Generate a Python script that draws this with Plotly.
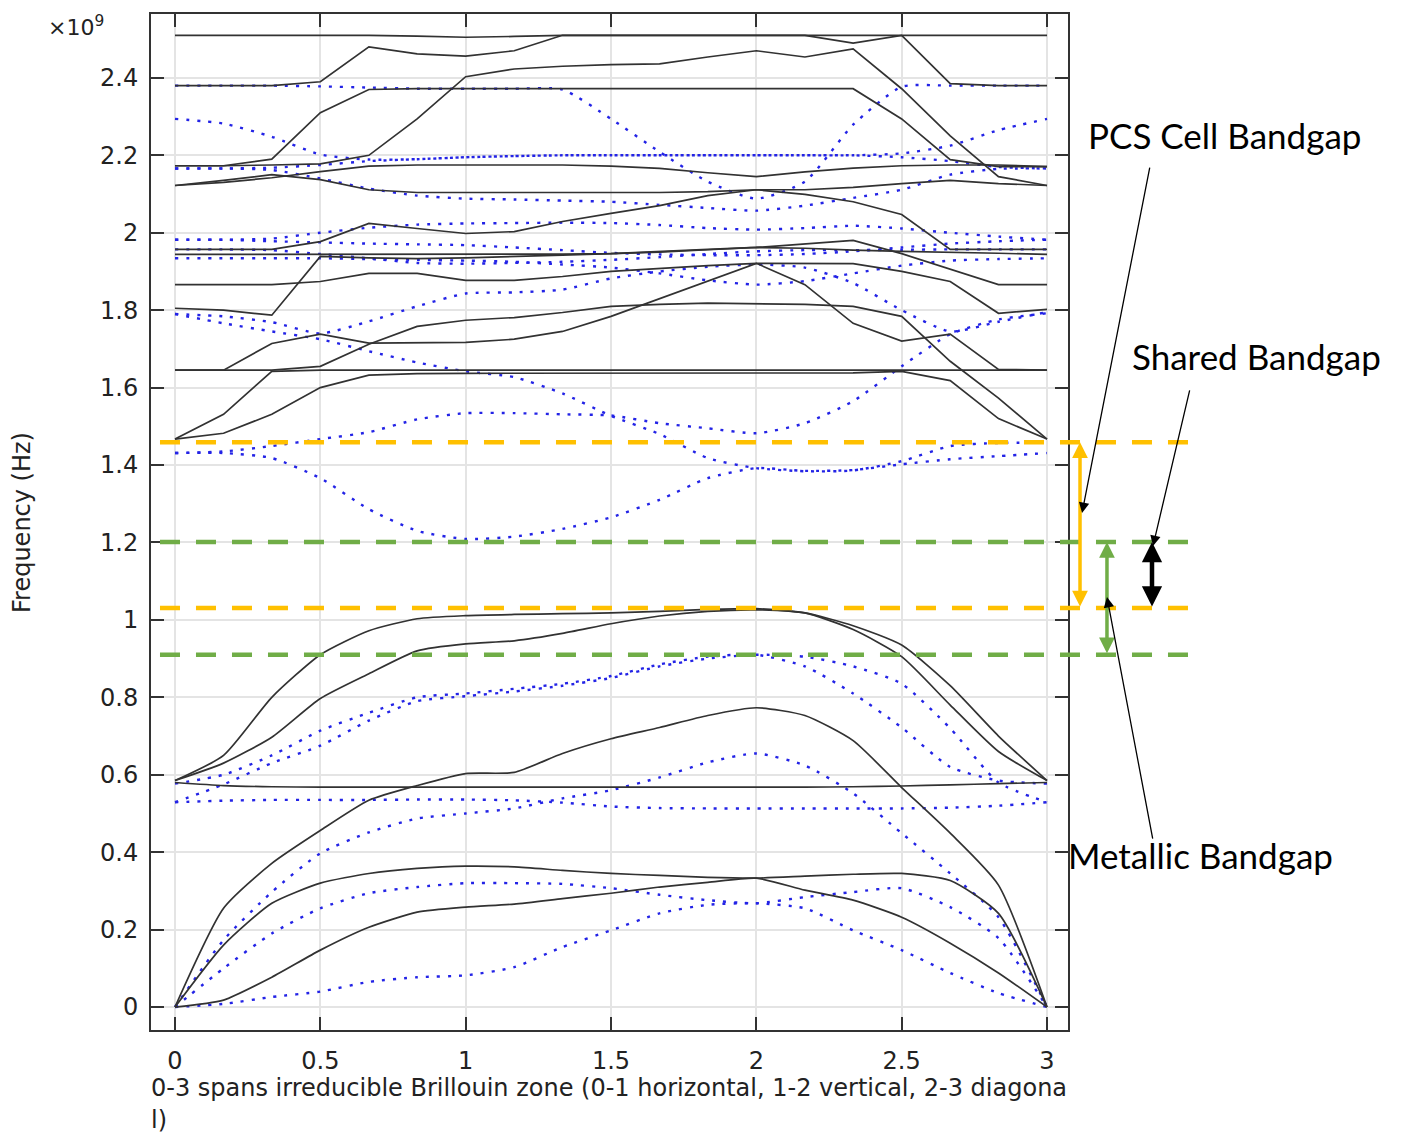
import plotly.graph_objects as go

# ---------------- data (frequencies in units of 1e9 Hz) ----------------
X = [0, 0.167, 0.333, 0.5, 0.667, 0.833, 1, 1.167, 1.333, 1.5, 1.667, 1.833, 2, 2.167, 2.333, 2.5, 2.667, 2.833, 3]

# metallic (solid black) bands
B1 = [0, 0.018, 0.077, 0.147, 0.206, 0.245, 0.258, 0.266, 0.28, 0.294, 0.31, 0.322, 0.333, 0.302, 0.276, 0.232, 0.165, 0.088, 0]
B2 = [0, 0.16, 0.268, 0.32, 0.345, 0.358, 0.364, 0.362, 0.353, 0.345, 0.34, 0.335, 0.333, 0.338, 0.343, 0.345, 0.327, 0.242, 0]
B3 = [0, 0.255, 0.371, 0.456, 0.534, 0.572, 0.603, 0.606, 0.655, 0.693, 0.722, 0.753, 0.773, 0.753, 0.688, 0.567, 0.449, 0.315, 0]
B4 = [0.58, 0.572, 0.569, 0.568, 0.568, 0.568, 0.568, 0.568, 0.568, 0.568, 0.568, 0.568, 0.568, 0.568, 0.569, 0.571, 0.574, 0.577, 0.58]
B5 = [0.585, 0.65, 0.8, 0.91, 0.972, 1.003, 1.011, 1.014, 1.016, 1.018, 1.022, 1.027, 1.029, 1.018, 0.985, 0.935, 0.83, 0.70, 0.585]
B6 = [0.585, 0.63, 0.697, 0.797, 0.861, 0.92, 0.938, 0.946, 0.965, 0.99, 1.01, 1.022, 1.026, 1.018, 0.975, 0.905, 0.78, 0.66, 0.585]
K_J = [1.467, 1.531, 1.642, 1.645, 1.645, 1.645, 1.645, 1.645, 1.645, 1.645, 1.645, 1.645, 1.645, 1.645, 1.645, 1.645, 1.645, 1.645, 1.645]
K_K = [1.467, 1.482, 1.531, 1.6, 1.632, 1.636, 1.637, 1.637, 1.638, 1.638, 1.638, 1.638, 1.638, 1.638, 1.638, 1.642, 1.618, 1.52, 1.467]
K_H = [1.645, 1.645, 1.645, 1.655, 1.712, 1.758, 1.774, 1.781, 1.794, 1.81, 1.815, 1.818, 1.817, 1.815, 1.81, 1.784, 1.668, 1.573, 1.467]
K_I = [1.645, 1.645, 1.714, 1.738, 1.715, 1.716, 1.717, 1.725, 1.745, 1.784, 1.83, 1.874, 1.921, 1.866, 1.766, 1.72, 1.738, 1.647, 1.645]
K_G = [1.866, 1.866, 1.866, 1.874, 1.895, 1.895, 1.877, 1.877, 1.887, 1.9, 1.908, 1.915, 1.921, 1.921, 1.92, 1.9, 1.874, 1.792, 1.802]
K_F = [1.805, 1.80, 1.787, 1.939, 1.935, 1.933, 1.935, 1.938, 1.942, 1.946, 1.952, 1.957, 1.962, 1.972, 1.98, 1.946, 1.905, 1.866, 1.866]
K_E = [1.944, 1.944, 1.944, 1.944, 1.944, 1.944, 1.944, 1.944, 1.945, 1.946, 1.95, 1.956, 1.962, 1.96, 1.955, 1.952, 1.95, 1.947, 1.944]
K_D = [1.957, 1.957, 1.957, 1.977, 2.024, 2.011, 1.998, 2.003, 2.029, 2.05, 2.07, 2.096, 2.111, 2.099, 2.08, 2.047, 1.957, 1.957, 1.957]
K_B = [2.122, 2.135, 2.15, 2.137, 2.111, 2.104, 2.104, 2.104, 2.104, 2.104, 2.104, 2.106, 2.111, 2.111, 2.117, 2.127, 2.135, 2.127, 2.122]
K_C = [2.122, 2.13, 2.142, 2.158, 2.172, 2.175, 2.175, 2.175, 2.175, 2.172, 2.166, 2.155, 2.145, 2.157, 2.167, 2.173, 2.175, 2.175, 2.171]
K_Z = [2.173, 2.173, 2.19, 2.31, 2.37, 2.372, 2.372, 2.372, 2.372, 2.372, 2.372, 2.372, 2.372, 2.372, 2.372, 2.294, 2.189, 2.171, 2.171]
K_Y = [2.173, 2.173, 2.175, 2.178, 2.2, 2.294, 2.403, 2.423, 2.43, 2.434, 2.436, 2.454, 2.47, 2.454, 2.475, 2.372, 2.25, 2.145, 2.122]
K_2 = [2.38, 2.38, 2.38, 2.39, 2.48, 2.462, 2.456, 2.47, 2.51, 2.51, 2.51, 2.51, 2.51, 2.51, 2.49, 2.51, 2.385, 2.38, 2.38]
K_TOP = [2.51, 2.51, 2.51, 2.51, 2.51, 2.508, 2.505, 2.507, 2.51, 2.51, 2.51, 2.51, 2.51, 2.51, 2.51, 2.51, 2.51, 2.51, 2.51]

# PCS cell (dotted blue) bands
D1 = [0, 0.008, 0.026, 0.04, 0.065, 0.077, 0.082, 0.103, 0.155, 0.198, 0.242, 0.264, 0.268, 0.255, 0.198, 0.147, 0.088, 0.036, 0]
D2 = [0, 0.1, 0.19, 0.255, 0.294, 0.31, 0.32, 0.32, 0.318, 0.307, 0.29, 0.276, 0.268, 0.284, 0.297, 0.307, 0.258, 0.178, 0]
D3 = [0, 0.173, 0.297, 0.397, 0.451, 0.487, 0.5, 0.513, 0.539, 0.56, 0.593, 0.632, 0.655, 0.624, 0.552, 0.449, 0.345, 0.232, 0]
D4 = [0.529, 0.533, 0.535, 0.535, 0.535, 0.536, 0.536, 0.534, 0.528, 0.518, 0.514, 0.513, 0.513, 0.513, 0.513, 0.513, 0.515, 0.52, 0.529]
D5 = [0.577, 0.6, 0.65, 0.714, 0.76, 0.80, 0.81, 0.822, 0.835, 0.855, 0.885, 0.905, 0.91, 0.88, 0.81, 0.722, 0.62, 0.585, 0.577]
D6 = [0.529, 0.575, 0.63, 0.675, 0.74, 0.79, 0.803, 0.815, 0.83, 0.85, 0.88, 0.9, 0.91, 0.905, 0.88, 0.835, 0.72, 0.58, 0.529]
D7 = [1.431, 1.431, 1.418, 1.366, 1.286, 1.23, 1.209, 1.215, 1.235, 1.265, 1.31, 1.366, 1.392, 1.385, 1.387, 1.402, 1.415, 1.423, 1.431]
D8 = [1.431, 1.435, 1.449, 1.467, 1.485, 1.518, 1.534, 1.534, 1.531, 1.528, 1.508, 1.495, 1.482, 1.508, 1.565, 1.655, 1.738, 1.776, 1.792]
D9 = [1.79, 1.766, 1.745, 1.725, 1.694, 1.665, 1.642, 1.627, 1.585, 1.527, 1.48, 1.418, 1.392, 1.384, 1.386, 1.41, 1.449, 1.457, 1.457]
D10 = [1.79, 1.784, 1.769, 1.74, 1.771, 1.81, 1.843, 1.846, 1.853, 1.882, 1.9, 1.912, 1.918, 1.91, 1.87, 1.8, 1.745, 1.77, 1.795]
D_H = [1.934, 1.934, 1.934, 1.934, 1.932, 1.93, 1.928, 1.925, 1.918, 1.91, 1.895, 1.877, 1.866, 1.875, 1.895, 1.915, 1.928, 1.932, 1.934]
D_G = [1.957, 1.957, 1.955, 1.945, 1.934, 1.922, 1.92, 1.922, 1.925, 1.93, 1.937, 1.945, 1.952, 1.955, 1.955, 1.956, 1.957, 1.957, 1.957]
D_F = [1.982, 1.982, 1.978, 1.975, 1.972, 1.97, 1.968, 1.962, 1.955, 1.948, 1.944, 1.942, 1.942, 1.945, 1.952, 1.962, 1.972, 1.978, 1.982]
D_E = [1.982, 1.982, 1.985, 2.0, 2.013, 2.021, 2.024, 2.025, 2.026, 2.025, 2.02, 2.012, 2.008, 2.012, 2.018, 2.011, 2.0, 1.99, 1.982]
D_B = [2.166, 2.166, 2.162, 2.14, 2.114, 2.096, 2.088, 2.086, 2.083, 2.08, 2.072, 2.064, 2.057, 2.07, 2.09, 2.111, 2.15, 2.165, 2.166]
D_A = [2.166, 2.166, 2.168, 2.175, 2.185, 2.19, 2.195, 2.198, 2.2, 2.2, 2.2, 2.2, 2.2, 2.2, 2.2, 2.195, 2.185, 2.17, 2.166]
D_C = [2.294, 2.282, 2.248, 2.202, 2.189, 2.19, 2.195, 2.198, 2.2, 2.2, 2.2, 2.2, 2.2, 2.2, 2.2, 2.205, 2.225, 2.265, 2.294]
D_V = [2.38, 2.38, 2.38, 2.378, 2.375, 2.372, 2.372, 2.372, 2.37, 2.294, 2.209, 2.132, 2.088, 2.132, 2.279, 2.377, 2.38, 2.38, 2.38]

METAL_SMOOTH = [B1, B2, B3, B4, B5, B6]
METAL_KINKED = [K_J, K_K, K_H, K_I, K_G, K_F, K_E, K_D, K_B, K_C, K_Z, K_Y, K_2, K_TOP]
PCS_BANDS = [D1, D2, D3, D4, D5, D6, D7, D8, D9, D10, D_H, D_G, D_F, D_E, D_B, D_A, D_C, D_V]

# band-gap edges (1e9 Hz)
PCS_GAP = [1.031, 1.459]
METAL_GAP = [0.910, 1.201]
SHARED_GAP = [1.031, 1.201]

X_TICKS = [0, 0.5, 1, 1.5, 2, 2.5, 3]
X_TICKTEXT = ["0", "0.5", "1", "1.5", "2", "2.5", "3"]
Y_TICKS = [0, 0.2, 0.4, 0.6, 0.8, 1.0, 1.2, 1.4, 1.6, 1.8, 2.0, 2.2, 2.4]
Y_TICKTEXT = ["0", "0.2", "0.4", "0.6", "0.8", "1", "1.2", "1.4", "1.6", "1.8", "2", "2.2", "2.4"]

X_RANGE = [-0.0826, 3.0722]
Y_RANGE = [-0.0593, 2.565]

# ---------------- figure ----------------
fig = go.Figure()
BLUE = "rgb(35,35,230)"
BLACK = "rgb(50,50,50)"

for band in PCS_BANDS:
    fig.add_trace(go.Scatter(x=X, y=band, mode="lines", showlegend=False, hoverinfo="skip",
                             line=dict(color=BLUE, width=2.4, dash="3px,8px", shape="spline", smoothing=0.6)))
for band in METAL_SMOOTH:
    fig.add_trace(go.Scatter(x=X, y=band, mode="lines", showlegend=False, hoverinfo="skip",
                             line=dict(color=BLACK, width=1.7, shape="spline", smoothing=0.6)))
for band in METAL_KINKED:
    fig.add_trace(go.Scatter(x=X, y=band, mode="lines", showlegend=False, hoverinfo="skip",
                             line=dict(color=BLACK, width=1.7)))

def ypaper(v):
    return (v - Y_RANGE[0]) / (Y_RANGE[1] - Y_RANGE[0])

ORANGE = "#FFC000"
GREEN = "#70AD47"
X0_LINE, X1_LINE = 0.0098, 1.133
for v in PCS_GAP:
    fig.add_shape(type="line", xref="paper", yref="paper", x0=X0_LINE, x1=X1_LINE,
                  y0=ypaper(v), y1=ypaper(v), line=dict(color=ORANGE, width=4.5, dash="20px,16px"))
for v in METAL_GAP:
    fig.add_shape(type="line", xref="paper", yref="paper", x0=X0_LINE, x1=X1_LINE,
                  y0=ypaper(v), y1=ypaper(v), line=dict(color=GREEN, width=4.5, dash="20px,16px"))

annotations = []

def double_arrow(xp, lo, hi, color, width):
    annotations.append(dict(xref="paper", yref="y", x=xp, y=hi, axref="pixel", ax=0,
                            ayref="y", ay=lo, text="", showarrow=True, arrowside="end+start",
                            arrowhead=2, arrowsize=0.9, arrowwidth=width, arrowcolor=color))

double_arrow(1.0131, PCS_GAP[0], PCS_GAP[1], ORANGE, 3.5)
double_arrow(1.0425, METAL_GAP[0], METAL_GAP[1], GREEN, 3.5)
double_arrow(1.0916, SHARED_GAP[0], SHARED_GAP[1], "black", 4.5)

LABEL_FONT = dict(family="Lato, Carlito, Liberation Sans", size=35, color="black")
# pointer arrows from labels
annotations.append(dict(xref="paper", yref="paper", x=1.0153, y=ypaper(1.276), axref="pixel", ayref="pixel",
                        ax=68, ay=-347, text="", showarrow=True, arrowhead=2, arrowsize=1.6, arrowwidth=1.3,
                        arrowcolor="black"))
annotations.append(dict(xref="paper", yref="paper", x=1.0927, y=ypaper(1.191), axref="pixel", ayref="pixel",
                        ax=37, ay=-157, text="", showarrow=True, arrowhead=2, arrowsize=1.6, arrowwidth=1.3,
                        arrowcolor="black"))
annotations.append(dict(xref="paper", yref="paper", x=1.0425, y=ypaper(1.059), axref="pixel", ayref="pixel",
                        ax=46, ay=243, text="", showarrow=True, arrowhead=2, arrowsize=1.6, arrowwidth=1.3,
                        arrowcolor="black"))

annotations.append(dict(xref="paper", yref="paper", x=(1086 - 151) / 917, y=(1030 - 133) / 1018,
                        xanchor="left", yanchor="middle", text="PCS Cell Bandgap", showarrow=False, font=LABEL_FONT))
annotations.append(dict(xref="paper", yref="paper", x=(1130 - 151) / 917, y=(1030 - 355) / 1018,
                        xanchor="left", yanchor="middle", text="Shared Bandgap", showarrow=False, font=LABEL_FONT))
annotations.append(dict(xref="paper", yref="paper", x=(1066 - 151) / 917, y=(1030 - 855) / 1018,
                        xanchor="left", yanchor="middle", text="Metallic Bandgap", showarrow=False, font=LABEL_FONT))

AX_FONT = dict(family="DejaVu Sans", size=24, color="#222")
annotations.append(dict(xref="paper", yref="paper", x=(149 - 151) / 917, y=(1030 - 1088) / 1018,
                        xanchor="left", yanchor="middle", showarrow=False, font=AX_FONT,
                        text="0-3 spans irreducible Brillouin zone (0-1 horizontal, 1-2 vertical, 2-3 diagona"))
annotations.append(dict(xref="paper", yref="paper", x=(149 - 151) / 917, y=(1030 - 1120) / 1018,
                        xanchor="left", yanchor="middle", showarrow=False, font=AX_FONT, text="l)"))
annotations.append(dict(xref="paper", yref="paper", x=(22 - 151) / 917, y=(1030 - 522) / 1018,
                        xanchor="center", yanchor="middle", showarrow=False, font=AX_FONT,
                        textangle=-90, text="Frequency (Hz)"))
annotations.append(dict(xref="paper", yref="paper", x=(46 - 151) / 917, y=(1030 - 24) / 1018,
                        xanchor="left", yanchor="middle", showarrow=False,
                        font=dict(family="DejaVu Sans", size=22, color="#222"),
                        text="×10<sup>9</sup>"))

axis_common = dict(showline=True, linecolor="#333", linewidth=2, mirror="ticks", ticks="inside",
                   ticklen=13, tickwidth=1.5, tickcolor="#333", showgrid=True, gridcolor="#e4e4e4",
                   gridwidth=2, zeroline=False, tickfont=AX_FONT)

fig.update_layout(
    width=1405, height=1135,
    margin=dict(l=151, r=337, t=12, b=105),
    plot_bgcolor="white", paper_bgcolor="white",
    xaxis=dict(range=X_RANGE, tickvals=X_TICKS, ticktext=X_TICKTEXT, ticklabelstandoff=8, **axis_common),
    yaxis=dict(range=Y_RANGE, tickvals=Y_TICKS, ticktext=Y_TICKTEXT, ticklabelstandoff=6, **axis_common),
    annotations=annotations,
    showlegend=False,
)

fig.write_html("out.html")
